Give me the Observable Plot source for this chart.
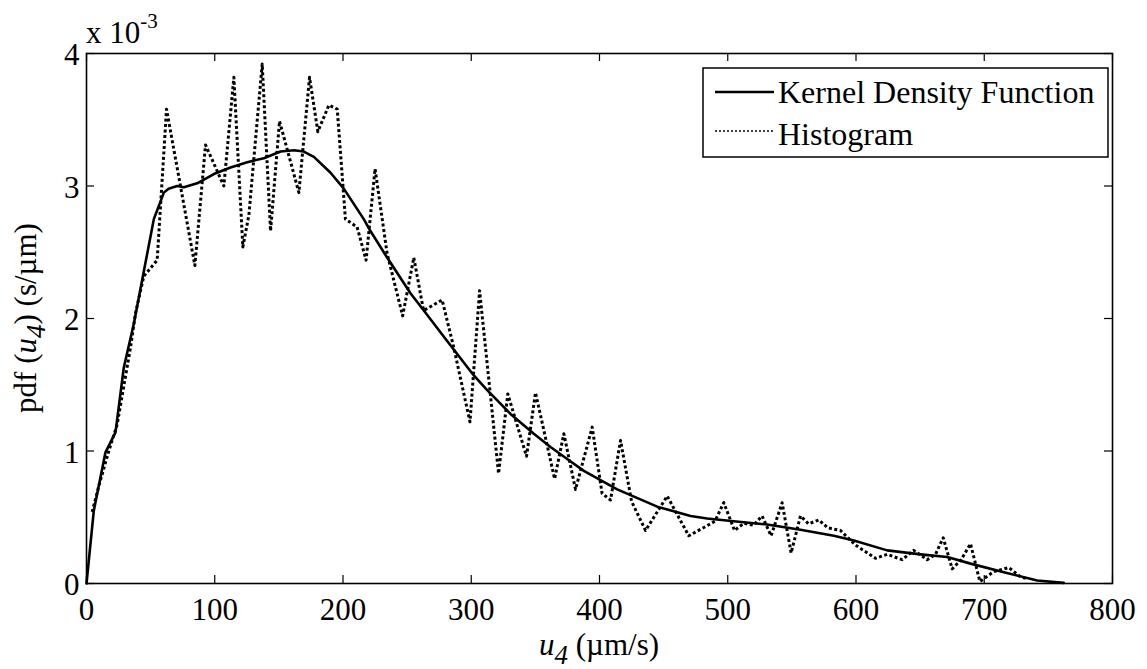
<!DOCTYPE html>
<html><head><meta charset="utf-8">
<script src="https://cdn.jsdelivr.net/npm/d3@7"></script>
<script src="https://cdn.jsdelivr.net/npm/@observablehq/plot@0.6"></script>
<style>
body{margin:0;background:#fff;}
#chart{width:1147px;height:669px;}
</style></head><body><div id="chart"></div>
<script>
// Values in units of 10^-3 (s/µm)
const kdeX = [0,5.7,14.8,22.6,29.1,36.9,43.4,52.5,60.3,64,70.7,75.9,86.3,99.3,112.3,125.3,138.3,151.3,161.7,169.4,177.3,190.3,200.6,216.2,221.4,234.4,252.6,263,281.2,302,312.4,330.6,348.8,361.8,374.8,387.8,413.8,445,471,484,504.7,530.7,556.7,582.7,598.3,624.3,650.3,671.1,689.3,715.3,741.3,762];
const kdeY = [0,0.55,0.99,1.14,1.63,1.96,2.29,2.75,2.95,2.98,3.0,2.99,3.02,3.09,3.14,3.18,3.21,3.26,3.27,3.26,3.22,3.10,2.98,2.75,2.66,2.46,2.19,2.06,1.83,1.57,1.46,1.28,1.13,1.03,0.94,0.85,0.71,0.58,0.51,0.49,0.47,0.445,0.405,0.36,0.325,0.25,0.22,0.20,0.15,0.085,0.023,0.005];
const histX = [4.4,10,17.4,23.9,34.3,38.2,44.7,55.1,62.4,84.5,92.8,107.1,114.9,121.9,126.6,137,143.5,150.5,165.6,173.9,180.4,189,195.5,201.9,211,218,225,234.4,246.5,255.2,262.8,277.3,286.4,299,306.5,321.3,328.5,343.1,350.1,365,372.2,381.3,394.3,402,408.6,416.4,425,435.9,452.8,469.6,486.5,490,496.9,505.3,512.5,520,526.8,533.8,542.4,549.4,556.7,563,571,578,587.9,599.6,615.2,624.3,636,645,655.5,662,668,675,682,689.3,696.6,707.5,719.2,728.3,733.5];
const histY = [0.54,0.75,1.0,1.2,1.78,2.04,2.32,2.44,3.58,2.40,3.31,3.0,3.82,2.54,2.78,3.92,2.66,3.49,2.95,3.82,3.41,3.61,3.58,2.75,2.69,2.44,3.13,2.49,2.02,2.46,2.06,2.14,1.78,1.22,2.21,0.83,1.43,0.96,1.44,0.79,1.13,0.71,1.18,0.68,0.63,1.08,0.62,0.40,0.66,0.36,0.45,0.47,0.61,0.40,0.455,0.44,0.51,0.36,0.61,0.23,0.51,0.45,0.48,0.42,0.40,0.29,0.19,0.22,0.18,0.25,0.18,0.22,0.345,0.11,0.18,0.30,0.015,0.09,0.12,0.05,0.035];
const xTicks = [0,100,200,300,400,500,600,700,800];
const yTicks = [0,1,2,3,4];
const seriesNames = ["Kernel Density Function","Histogram"];

const kde = kdeX.map((x,i)=>({x, y:kdeY[i]}));
const hist = histX.map((x,i)=>({x, y:histY[i]}));
const FONT = "'Liberation Serif','Times New Roman',serif";

const plot = Plot.plot({
  width:1147, height:669,
  marginLeft:86, marginRight:35, marginTop:53, marginBottom:86,
  style:{fontFamily:FONT, fontSize:"31px", background:"#fff", color:"#000", overflow:"visible"},
  x:{domain:[0,800]},
  y:{domain:[0,4]},
  marks:[
    Plot.line(hist,{x:"x", y:"y", stroke:"#000", strokeWidth:3, strokeDasharray:"3,2.5", strokeLinecap:"butt"}),
    Plot.line(kde,{x:"x", y:"y", stroke:"#000", strokeWidth:2.6}),
    Plot.frame({stroke:"#000", strokeWidth:1.6}),
    // inward ticks on all four sides
    Plot.ruleX(xTicks,{x:d=>d, y1:0, y2:0, insetBottom:8, stroke:"#000", strokeWidth:1.2}),
    Plot.ruleX(xTicks,{x:d=>d, y1:4, y2:4, insetTop:8, stroke:"#000", strokeWidth:1.2}),
    Plot.ruleY(yTicks,{y:d=>d, x1:0, x2:0, insetRight:-8, stroke:"#000", strokeWidth:1.2}),
    Plot.ruleY(yTicks,{y:d=>d, x1:800, x2:800, insetLeft:-8, stroke:"#000", strokeWidth:1.2}),
    Plot.axisX({anchor:"bottom", ticks:xTicks, tickSize:0, tickPadding:14, label:null, tickFormat:d=>String(d)}),
    Plot.axisY({anchor:"left", ticks:yTicks, tickSize:0, tickPadding:7, dy:2, label:null, tickFormat:d=>String(d)})
  ]
});
document.getElementById("chart").appendChild(plot);

const svg = d3.select(plot);
const xs = plot.scale("x"), ys = plot.scale("y");
const cx = (xs.range[0]+xs.range[1])/2;
const cy = (ys.range[0]+ys.range[1])/2;

// Exponent label
const ex = svg.append("text").attr("x",86).attr("y",43).attr("text-anchor","start").attr("font-family",FONT).attr("font-size",31).attr("fill","#000");
ex.append("tspan").text("x 10");
ex.append("tspan").attr("font-size",21).attr("dy",-15).text("-3");

// X-axis title
const xt = svg.append("text").attr("x",cx).attr("y",655).attr("text-anchor","middle").attr("font-family",FONT).attr("font-size",31).attr("fill","#000");
xt.append("tspan").attr("font-style","italic").text("u");
xt.append("tspan").attr("font-style","italic").attr("font-size",27).attr("dy",9).text("4");
xt.append("tspan").attr("dy",-9).text(" (\u00B5m/s)");

// Y-axis title
const yt = svg.append("text").attr("transform",`translate(36,${cy}) rotate(-90)`).attr("text-anchor","middle").attr("font-family",FONT).attr("font-size",31).attr("fill","#000");
yt.append("tspan").text("pdf (");
yt.append("tspan").attr("font-style","italic").text("u");
yt.append("tspan").attr("font-style","italic").attr("font-size",27).attr("dy",9).text("4");
yt.append("tspan").attr("dy",-9).text(") (s/\u00B5m)");

// Legend
const lg = svg.append("g").attr("text-anchor","start");
lg.append("rect").attr("x",703).attr("y",68).attr("width",405).attr("height",89).attr("fill","#fff").attr("stroke","#000").attr("stroke-width",1.5);
lg.append("line").attr("x1",715).attr("x2",774).attr("y1",92).attr("y2",92).attr("stroke","#000").attr("stroke-width",2.6);
lg.append("line").attr("x1",715).attr("x2",774).attr("y1",131).attr("y2",131).attr("stroke","#000").attr("stroke-width",1.5).attr("stroke-dasharray","2,2");
lg.append("text").attr("x",778).attr("y",103).attr("text-anchor","start").attr("font-family",FONT).attr("font-size",32).attr("fill","#000").text(seriesNames[0]);
lg.append("text").attr("x",778).attr("y",145).attr("text-anchor","start").attr("font-family",FONT).attr("font-size",32).attr("fill","#000").text(seriesNames[1]);
</script></body></html>
